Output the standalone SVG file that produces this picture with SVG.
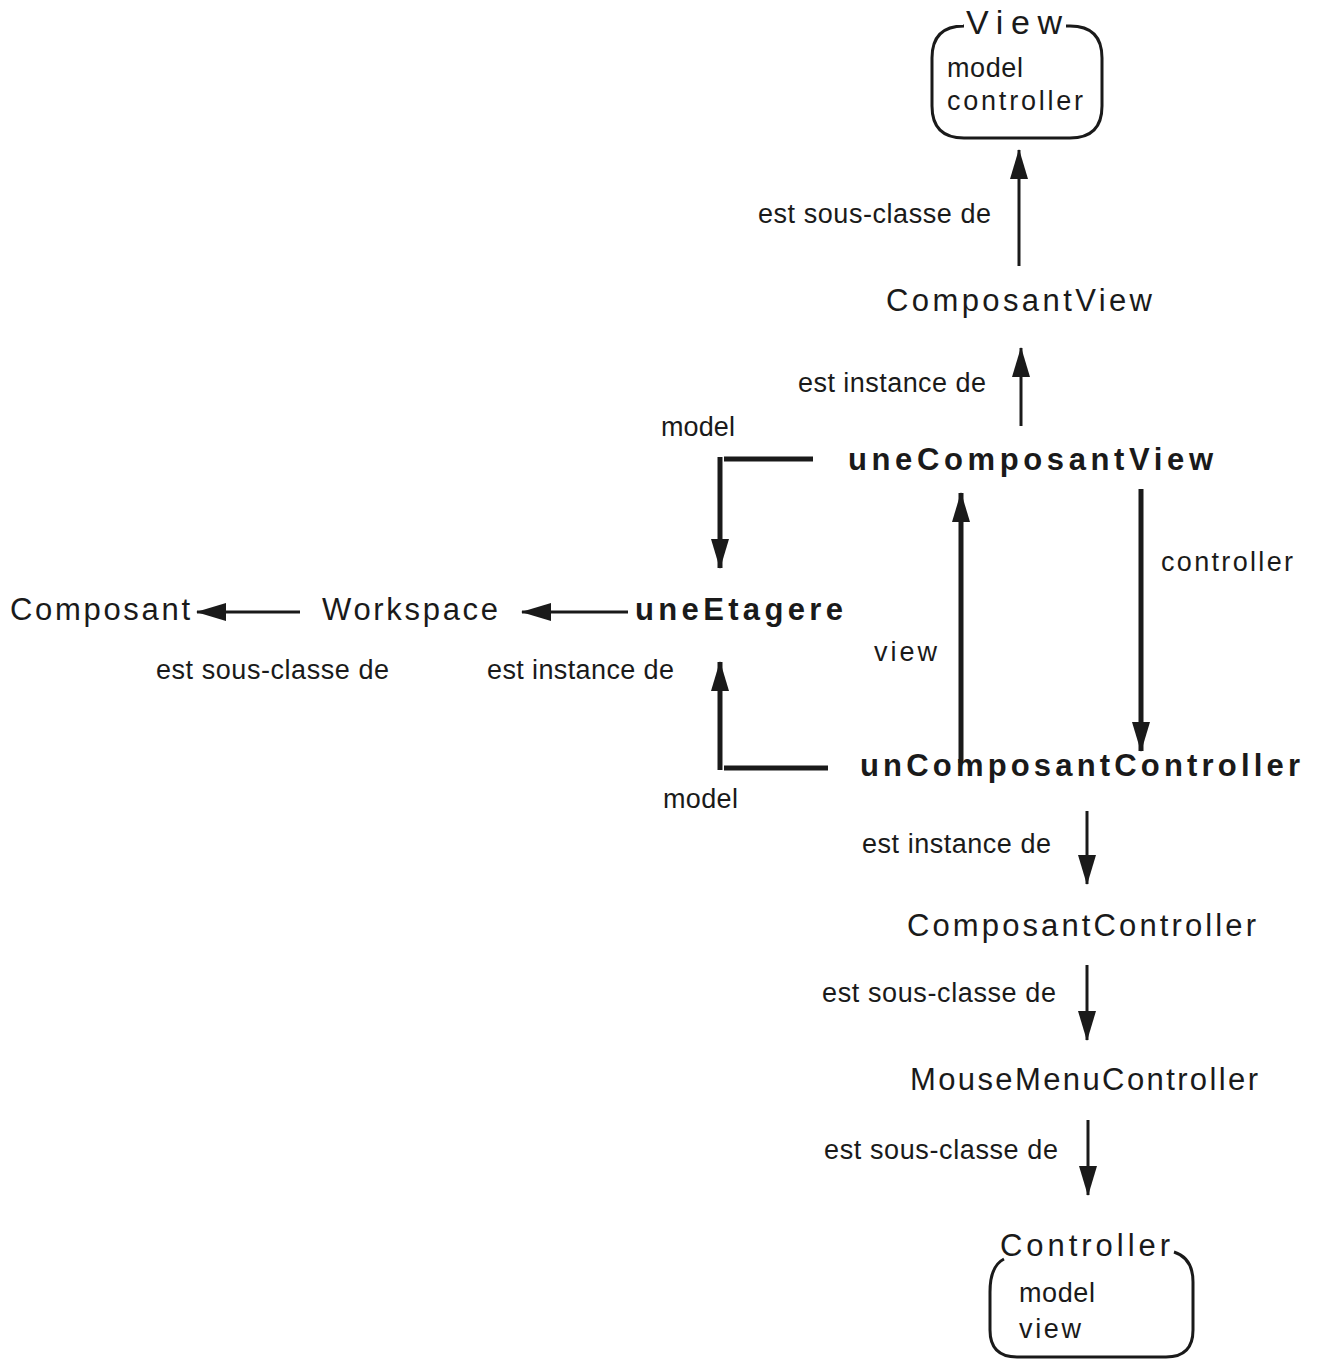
<svg xmlns="http://www.w3.org/2000/svg" width="1320" height="1362" viewBox="0 0 1320 1362">
<style>
text{font-family:"Liberation Sans",Arial,sans-serif;fill:#1a1a1a}
.lbl{font-size:27px}
.cls{font-size:31px}
.ttl{font-size:34px}
.obj{font-size:31px;font-weight:bold}
.attr{font-size:27px}
.thin{stroke:#1a1a1a;stroke-width:3;fill:none}
.thick{stroke:#1a1a1a;stroke-width:5;fill:none}
.box{stroke:#1a1a1a;stroke-width:3;fill:none}
</style>
<defs>
<marker id="ah" markerUnits="userSpaceOnUse" markerWidth="30" markerHeight="20" viewBox="0 0 30 20" refX="29" refY="10" orient="auto">
<path d="M0,1 L30,10 L0,19 Z" fill="#1a1a1a"/>
</marker>
</defs>
<rect width="1320" height="1362" fill="#ffffff"/>

<g id="node-View">
<path class="box" d="M963 26 L964 26 Q932 26 932 58 L932 106 Q932 138 964 138 L1070 138 Q1102 138 1102 106 L1102 58 Q1102 26 1070 26 L1066 26"/>
<text class="ttl" x="966" y="34" textLength="96" lengthAdjust="spacing">View</text>
<text class="attr" x="947" y="77" textLength="76" lengthAdjust="spacing">model</text>
<text class="attr" x="947" y="110" textLength="136" lengthAdjust="spacing">controller</text>
</g>

<g id="node-ComposantView">
<text class="cls" x="886" y="311" textLength="266" lengthAdjust="spacing">ComposantView</text>
</g>

<g id="node-uneComposantView">
<text class="obj" x="848" y="470" textLength="365" lengthAdjust="spacing">uneComposantView</text>
</g>

<g id="node-Composant">
<text class="cls" x="10" y="620" textLength="180" lengthAdjust="spacing">Composant</text>
</g>

<g id="node-Workspace">
<text class="cls" x="322" y="620" textLength="176" lengthAdjust="spacing">Workspace</text>
</g>

<g id="node-uneEtagere">
<text class="obj" x="635" y="620" textLength="208" lengthAdjust="spacing">uneEtagere</text>
</g>

<g id="node-unComposantController">
<text class="obj" x="860" y="776" textLength="440" lengthAdjust="spacing">unComposantController</text>
</g>

<g id="node-ComposantController">
<text class="cls" x="907" y="936" textLength="349" lengthAdjust="spacing">ComposantController</text>
</g>

<g id="node-MouseMenuController">
<text class="cls" x="910" y="1090" textLength="348" lengthAdjust="spacing">MouseMenuController</text>
</g>

<g id="node-Controller">
<path class="box" d="M1004 1259 Q990 1266 990 1292 L990 1330 Q990 1357 1017 1357 L1166 1357 Q1193 1357 1193 1330 L1193 1282 Q1193 1258 1174 1252"/>
<text class="cls" x="1000" y="1256" textLength="170" lengthAdjust="spacing">Controller</text>
<text class="attr" x="1019" y="1302" textLength="76" lengthAdjust="spacing">model</text>
<text class="attr" x="1019" y="1338" textLength="62" lengthAdjust="spacing">view</text>
</g>

<g id="connectors">
<line class="thin" x1="1019" y1="266" x2="1019" y2="150" marker-end="url(#ah)"/>
<text class="lbl" x="758" y="223" textLength="233" lengthAdjust="spacing">est sous-classe de</text>

<line class="thin" x1="1021" y1="426" x2="1021" y2="348" marker-end="url(#ah)"/>
<text class="lbl" x="798" y="392" textLength="188" lengthAdjust="spacing">est instance de</text>

<line class="thick" x1="813" y1="459" x2="724" y2="459"/>
<line class="thick" x1="720" y1="457" x2="720" y2="568" marker-end="url(#ah)"/>
<text class="lbl" x="661" y="436" textLength="74" lengthAdjust="spacing">model</text>

<line class="thick" x1="961" y1="763" x2="961" y2="493" marker-end="url(#ah)"/>
<text class="lbl" x="874" y="661" textLength="63" lengthAdjust="spacing">view</text>

<line class="thick" x1="1141" y1="489" x2="1141" y2="751" marker-end="url(#ah)"/>
<text class="lbl" x="1161" y="571" textLength="132" lengthAdjust="spacing">controller</text>

<line class="thin" x1="300" y1="612" x2="197" y2="612" marker-end="url(#ah)"/>
<text class="lbl" x="156" y="679" textLength="233" lengthAdjust="spacing">est sous-classe de</text>

<line class="thin" x1="628" y1="612" x2="522" y2="612" marker-end="url(#ah)"/>
<text class="lbl" x="487" y="679" textLength="187" lengthAdjust="spacing">est instance de</text>

<line class="thick" x1="828" y1="768" x2="724" y2="768"/>
<line class="thick" x1="720" y1="770" x2="720" y2="662" marker-end="url(#ah)"/>
<text class="lbl" x="663" y="808" textLength="75" lengthAdjust="spacing">model</text>

<line class="thin" x1="1087" y1="811" x2="1087" y2="884" marker-end="url(#ah)"/>
<text class="lbl" x="862" y="853" textLength="189" lengthAdjust="spacing">est instance de</text>

<line class="thin" x1="1087" y1="965" x2="1087" y2="1040" marker-end="url(#ah)"/>
<text class="lbl" x="822" y="1002" textLength="234" lengthAdjust="spacing">est sous-classe de</text>

<line class="thin" x1="1088" y1="1120" x2="1088" y2="1195" marker-end="url(#ah)"/>
<text class="lbl" x="824" y="1159" textLength="234" lengthAdjust="spacing">est sous-classe de</text>
</g>
</svg>
